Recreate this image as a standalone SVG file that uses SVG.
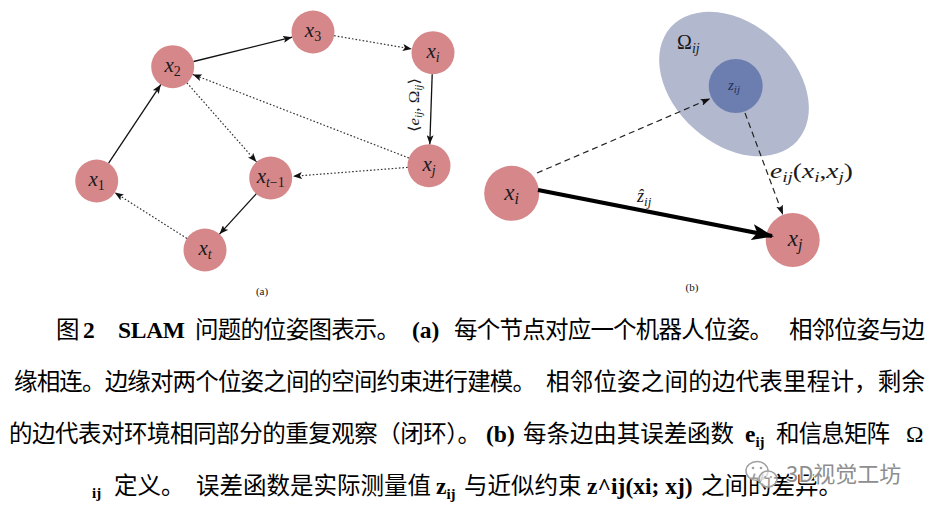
<svg xmlns="http://www.w3.org/2000/svg" width="934" height="515" viewBox="0 0 934 515">
<defs>
<style>
.node{fill:#d6878a}
.m{font-family:"Liberation Serif","DejaVu Serif",serif;font-style:italic;fill:#1a1a1a}
.up{font-style:normal}
.solid{stroke:#111;stroke-width:1.3;fill:none}
.dot{stroke:#333;stroke-width:1.2;fill:none;stroke-dasharray:1.6 2}
.dash{stroke:#222;stroke-width:1.2;fill:none;stroke-dasharray:6 4}
.thick{stroke:#000;stroke-width:4.2;fill:none}
.cap{font-family:"Liberation Serif",serif;font-size:11px;fill:#111}
.cjk{font-family:"Liberation Serif","Noto Sans CJK SC",sans-serif;font-size:23.5px;fill:#000}
.lb{font-family:"Liberation Serif",serif;font-weight:bold;font-size:23.5px;fill:#000}
.wm{font-family:"Noto Sans CJK SC","Noto Sans",sans-serif;font-size:22px;fill:#8e8e8e;stroke:#fff;stroke-width:2;paint-order:stroke}
</style>
<marker id="ah" viewBox="0 0 9 7" markerWidth="9" markerHeight="7" refX="9" refY="3.5" orient="auto" markerUnits="userSpaceOnUse"><path d="M0,0 L9,3.5 L0,7 L2,3.5 Z" fill="#111"/></marker>
<marker id="ahd" viewBox="0 0 10 7" markerWidth="10" markerHeight="7" refX="10" refY="3.5" orient="auto" markerUnits="userSpaceOnUse"><path d="M0,0 L10,3.5 L0,7 L2.2,3.5 Z" fill="#111"/></marker>
<marker id="ahb" viewBox="0 0 22 16" markerWidth="22" markerHeight="16" refX="20" refY="8" orient="auto" markerUnits="userSpaceOnUse"><path d="M0,0 L22,8 L0,16 L5,8 Z" fill="#000"/></marker>
</defs>
<rect width="934" height="515" fill="#fff"/>

<!-- panel (a) nodes -->
<g id="node-x1"><circle class="node" cx="96.7" cy="181" r="21.5"/><text class="m" x="96.7" y="186" font-size="21" text-anchor="middle">x<tspan font-size="14" dy="4" class="up">1</tspan></text></g>
<g id="node-x2"><circle class="node" cx="172.7" cy="66.7" r="21.5"/><text class="m" x="172.7" y="71.7" font-size="21" text-anchor="middle">x<tspan font-size="14" dy="4" class="up">2</tspan></text></g>
<g id="node-x3"><circle class="node" cx="313" cy="32" r="21.5"/><text class="m" x="313" y="37" font-size="21" text-anchor="middle">x<tspan font-size="14" dy="4" class="up">3</tspan></text></g>
<g id="node-xi"><circle class="node" cx="433" cy="52.7" r="21.5"/><text class="m" x="433" y="57.7" font-size="21" text-anchor="middle">x<tspan font-size="14" dy="4">i</tspan></text></g>
<g id="node-xj"><circle class="node" cx="429" cy="165.7" r="21.5"/><text class="m" x="429" y="170.7" font-size="21" text-anchor="middle">x<tspan font-size="14" dy="4">j</tspan></text></g>
<g id="node-xt1"><circle class="node" cx="270.7" cy="178" r="21.5"/><text class="m" x="270.7" y="183" font-size="21" text-anchor="middle">x<tspan font-size="14" dy="4">t<tspan class="up">−1</tspan></tspan></text></g>
<g id="node-xt"><circle class="node" cx="205" cy="250" r="21.5"/><text class="m" x="205" y="255" font-size="21" text-anchor="middle">x<tspan font-size="14" dy="4">t</tspan></text></g>
<text class="cap" x="262" y="295" text-anchor="middle">(a)</text>

<!-- panel (b) shapes and nodes -->
<g id="node-omega"><ellipse cx="734" cy="84" rx="85" ry="60" transform="rotate(42 734 84)" fill="#b2b8cd"/><text class="m" x="677" y="49" font-size="20"><tspan class="up">Ω</tspan><tspan font-size="14" dy="4">ij</tspan></text></g>
<g id="node-zij"><circle cx="735.7" cy="86" r="27" fill="#6c7db0"/><text class="m" x="734" y="90" font-size="15" style="fill:#28305a" text-anchor="middle">z<tspan font-size="11" dy="3">ij</tspan></text></g>
<g id="node-bxi"><circle class="node" cx="511.7" cy="193.3" r="27.5"/><text class="m" x="511.7" y="199.5" font-size="23" text-anchor="middle">x<tspan font-size="16" dy="4">i</tspan></text></g>
<g id="node-bxj"><circle class="node" cx="792.7" cy="240" r="27"/><text class="m" x="795" y="246" font-size="23" text-anchor="middle">x<tspan font-size="16" dy="4">j</tspan></text></g>
<text class="cap" x="692" y="291" text-anchor="middle">(b)</text>

<!-- connectors -->
<g id="connectors">
<line class="solid" x1="108.6" y1="163.1" x2="160.8" y2="84.6" marker-end="url(#ah)"/>
<line class="solid" x1="193.6" y1="61.5" x2="292.1" y2="37.2" marker-end="url(#ah)"/>
<line class="dot" x1="334.2" y1="35.7" x2="411.8" y2="49" marker-end="url(#ah)"/>
<line class="solid" x1="432.2" y1="74.2" x2="429.8" y2="144.2" marker-end="url(#ah)"/>
<line class="dot" x1="408.9" y1="158" x2="192.8" y2="74.4" marker-end="url(#ah)"/>
<line class="dot" x1="407.6" y1="167.4" x2="293" y2="176.3" marker-end="url(#ah)"/>
<line class="dot" x1="186.9" y1="82.8" x2="256.5" y2="161.9" marker-end="url(#ah)"/>
<line class="solid" x1="256.2" y1="193.9" x2="219.5" y2="234.1" marker-end="url(#ah)"/>
<line class="dot" x1="186.9" y1="238.4" x2="114.8" y2="192.6" marker-end="url(#ah)"/>
<text class="m" font-size="15" transform="translate(419 105) rotate(-90)" text-anchor="middle" textLength="54" lengthAdjust="spacingAndGlyphs"><tspan class="up">⟨</tspan>e<tspan font-size="10" dy="3">ij</tspan><tspan dy="-3" class="up">, Ω</tspan><tspan font-size="10" dy="3">ij</tspan><tspan dy="-3" class="up">⟩</tspan></text>

<line class="dash" x1="537" y1="173" x2="710.5" y2="98.5" marker-end="url(#ahd)"/>
<line class="dash" x1="745" y1="113" x2="783" y2="215" marker-end="url(#ahd)"/>
<line class="thick" x1="538" y1="190" x2="772" y2="236" marker-end="url(#ahb)"/>
<text class="m" x="637" y="201.7" font-size="18">ẑ<tspan font-size="13" dy="4">ij</tspan></text>
<text class="m" x="770" y="178" font-size="20" textLength="83" lengthAdjust="spacingAndGlyphs">e<tspan font-size="14" dy="4">ij</tspan><tspan dy="-4" class="up">(</tspan>x<tspan font-size="14" dy="4">i</tspan><tspan dy="-4" class="up">,</tspan>x<tspan font-size="14" dy="4">j</tspan><tspan dy="-4" class="up">)</tspan></text>
</g>

<!-- caption -->
<g id="caption">
<text class="cjk" x="56" y="338">图</text>
<text class="lb" x="83" y="338">2</text>
<text class="lb" x="118" y="338" textLength="67">SLAM</text>
<text class="cjk" x="195" y="338" textLength="205">问题的位姿图表示。</text>
<text class="lb" x="412" y="338">(a)</text>
<text class="cjk" x="454" y="338" textLength="319">每个节点对应一个机器人位姿。</text>
<text class="cjk" x="789" y="338" textLength="136">相邻位姿与边</text>

<text class="cjk" x="14" y="390" textLength="522">缘相连。边缘对两个位姿之间的空间约束进行建模。</text>
<text class="cjk" x="546" y="390" textLength="379">相邻位姿之间的边代表里程计，剩余</text>

<text class="cjk" x="9" y="442" textLength="472">的边代表对环境相同部分的重复观察（闭环）。</text>
<text class="lb" x="486" y="442">(b)</text>
<text class="cjk" x="523" y="442" textLength="211">每条边由其误差函数</text>
<text class="lb" x="745" y="442">e<tspan font-size="15" dy="5" style="font-size:15px">ij</tspan></text>
<text class="cjk" x="776" y="442" textLength="114">和信息矩阵</text>
<text class="lb" x="906" y="442" style="font-weight:normal">Ω</text>

<text class="lb" x="92" y="498" style="font-size:15px">ij</text>
<text class="cjk" x="114" y="494">定义。</text>
<text class="cjk" x="196" y="494">误差函数是实际测量值</text>
<text class="lb" x="436" y="494">z<tspan style="font-size:15px" dy="5">ij</tspan></text>
<text class="cjk" x="464" y="494">与近似约束</text>
<text class="lb" x="587" y="494">z^ij(xi; xj)</text>
<text class="cjk" x="701" y="494">之间的差异。</text>
</g>

<!-- watermark -->
<g id="watermark">
<ellipse cx="757" cy="471" rx="11" ry="9.5" fill="#fff" fill-opacity="0.6" stroke="#a0a0a0" stroke-width="1.5"/>
<ellipse cx="768" cy="479" rx="9" ry="8" fill="#fff" fill-opacity="0.6" stroke="#a0a0a0" stroke-width="1.5"/>
<circle cx="753" cy="468" r="1.3" fill="#a0a0a0"/><circle cx="761" cy="468" r="1.3" fill="#a0a0a0"/>
<circle cx="765" cy="477" r="1.1" fill="#a0a0a0"/><circle cx="771" cy="477" r="1.1" fill="#a0a0a0"/>
<text class="wm" x="786" y="482">3D视觉工坊</text>
</g>
</svg>
